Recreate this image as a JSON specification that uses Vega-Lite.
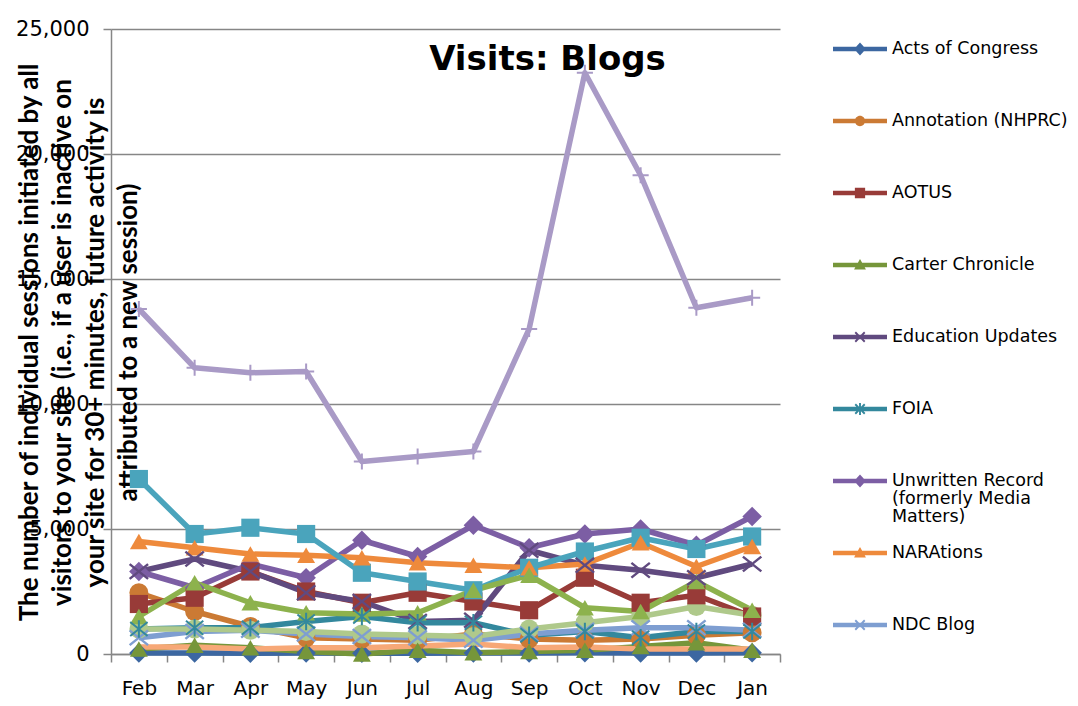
{
"$schema":"https://vega.github.io/schema/vega-lite/v6.json",
"width":669,"height":625,
"autosize":{"type":"none"},
"padding":{"left":111,"top":29,"right":298,"bottom":52},
"background":"white",
"config":{"view":{"stroke":null}},
"title":{"text":"Visits: Blogs","font":"DejaVu Sans","fontSize":34,"fontWeight":"bold","color":"#000000","anchor":"middle","dx":102,"dy":42,"offset":-44,"baseline":"alphabetic"},
"datasets":{"blogs":[
{"series":"Acts of Congress","month":"Feb","value":40},{"series":"Acts of Congress","month":"Mar","value":40},{"series":"Acts of Congress","month":"Apr","value":30},{"series":"Acts of Congress","month":"May","value":40},{"series":"Acts of Congress","month":"Jun","value":30},{"series":"Acts of Congress","month":"Jul","value":30},{"series":"Acts of Congress","month":"Aug","value":40},{"series":"Acts of Congress","month":"Sep","value":40},{"series":"Acts of Congress","month":"Oct","value":50},{"series":"Acts of Congress","month":"Nov","value":40},{"series":"Acts of Congress","month":"Dec","value":40},{"series":"Acts of Congress","month":"Jan","value":50},
{"series":"Annotation (NHPRC)","month":"Feb","value":2450},{"series":"Annotation (NHPRC)","month":"Mar","value":1700},{"series":"Annotation (NHPRC)","month":"Apr","value":1100},{"series":"Annotation (NHPRC)","month":"May","value":650},{"series":"Annotation (NHPRC)","month":"Jun","value":600},{"series":"Annotation (NHPRC)","month":"Jul","value":550},{"series":"Annotation (NHPRC)","month":"Aug","value":800},{"series":"Annotation (NHPRC)","month":"Sep","value":600},{"series":"Annotation (NHPRC)","month":"Oct","value":550},{"series":"Annotation (NHPRC)","month":"Nov","value":600},{"series":"Annotation (NHPRC)","month":"Dec","value":750},{"series":"Annotation (NHPRC)","month":"Jan","value":850},
{"series":"AOTUS","month":"Feb","value":2000},{"series":"AOTUS","month":"Mar","value":2250},{"series":"AOTUS","month":"Apr","value":3300},{"series":"AOTUS","month":"May","value":2500},{"series":"AOTUS","month":"Jun","value":2050},{"series":"AOTUS","month":"Jul","value":2450},{"series":"AOTUS","month":"Aug","value":2100},{"series":"AOTUS","month":"Sep","value":1750},{"series":"AOTUS","month":"Oct","value":3050},{"series":"AOTUS","month":"Nov","value":2050},{"series":"AOTUS","month":"Dec","value":2350},{"series":"AOTUS","month":"Jan","value":1500},
{"series":"Carter Chronicle","month":"Feb","value":200},{"series":"Carter Chronicle","month":"Mar","value":350},{"series":"Carter Chronicle","month":"Apr","value":250},{"series":"Carter Chronicle","month":"May","value":100},{"series":"Carter Chronicle","month":"Jun","value":0},{"series":"Carter Chronicle","month":"Jul","value":150},{"series":"Carter Chronicle","month":"Aug","value":50},{"series":"Carter Chronicle","month":"Sep","value":100},{"series":"Carter Chronicle","month":"Oct","value":150},{"series":"Carter Chronicle","month":"Nov","value":300},{"series":"Carter Chronicle","month":"Dec","value":450},{"series":"Carter Chronicle","month":"Jan","value":150},
{"series":"Education Updates","month":"Feb","value":3300},{"series":"Education Updates","month":"Mar","value":3800},{"series":"Education Updates","month":"Apr","value":3300},{"series":"Education Updates","month":"May","value":2450},{"series":"Education Updates","month":"Jun","value":2100},{"series":"Education Updates","month":"Jul","value":1300},{"series":"Education Updates","month":"Aug","value":1350},{"series":"Education Updates","month":"Sep","value":4150},{"series":"Education Updates","month":"Oct","value":3550},{"series":"Education Updates","month":"Nov","value":3350},{"series":"Education Updates","month":"Dec","value":3050},{"series":"Education Updates","month":"Jan","value":3600},
{"series":"FOIA","month":"Feb","value":1000},{"series":"FOIA","month":"Mar","value":1050},{"series":"FOIA","month":"Apr","value":1050},{"series":"FOIA","month":"May","value":1300},{"series":"FOIA","month":"Jun","value":1500},{"series":"FOIA","month":"Jul","value":1250},{"series":"FOIA","month":"Aug","value":1250},{"series":"FOIA","month":"Sep","value":750},{"series":"FOIA","month":"Oct","value":900},{"series":"FOIA","month":"Nov","value":650},{"series":"FOIA","month":"Dec","value":900},{"series":"FOIA","month":"Jan","value":900},
{"series":"Unwritten Record (formerly Media Matters)","month":"Feb","value":3300},{"series":"Unwritten Record (formerly Media Matters)","month":"Mar","value":2650},{"series":"Unwritten Record (formerly Media Matters)","month":"Apr","value":3600},{"series":"Unwritten Record (formerly Media Matters)","month":"May","value":3050},{"series":"Unwritten Record (formerly Media Matters)","month":"Jun","value":4550},{"series":"Unwritten Record (formerly Media Matters)","month":"Jul","value":3900},{"series":"Unwritten Record (formerly Media Matters)","month":"Aug","value":5150},{"series":"Unwritten Record (formerly Media Matters)","month":"Sep","value":4250},{"series":"Unwritten Record (formerly Media Matters)","month":"Oct","value":4800},{"series":"Unwritten Record (formerly Media Matters)","month":"Nov","value":5000},{"series":"Unwritten Record (formerly Media Matters)","month":"Dec","value":4350},{"series":"Unwritten Record (formerly Media Matters)","month":"Jan","value":5500},
{"series":"NARAtions","month":"Feb","value":4500},{"series":"NARAtions","month":"Mar","value":4250},{"series":"NARAtions","month":"Apr","value":4000},{"series":"NARAtions","month":"May","value":3950},{"series":"NARAtions","month":"Jun","value":3850},{"series":"NARAtions","month":"Jul","value":3650},{"series":"NARAtions","month":"Aug","value":3550},{"series":"NARAtions","month":"Sep","value":3450},{"series":"NARAtions","month":"Oct","value":3600},{"series":"NARAtions","month":"Nov","value":4450},{"series":"NARAtions","month":"Dec","value":3500},{"series":"NARAtions","month":"Jan","value":4300},
{"series":"NDC Blog","month":"Feb","value":650},{"series":"NDC Blog","month":"Mar","value":900},{"series":"NDC Blog","month":"Apr","value":950},{"series":"NDC Blog","month":"May","value":800},{"series":"NDC Blog","month":"Jun","value":700},{"series":"NDC Blog","month":"Jul","value":650},{"series":"NDC Blog","month":"Aug","value":550},{"series":"NDC Blog","month":"Sep","value":800},{"series":"NDC Blog","month":"Oct","value":950},{"series":"NDC Blog","month":"Nov","value":1050},{"series":"NDC Blog","month":"Dec","value":1050},{"series":"NDC Blog","month":"Jan","value":950},
{"series":"Pieces of History","month":"Feb","value":13800},{"series":"Pieces of History","month":"Mar","value":11450},{"series":"Pieces of History","month":"Apr","value":11250},{"series":"Pieces of History","month":"May","value":11300},{"series":"Pieces of History","month":"Jun","value":7700},{"series":"Pieces of History","month":"Jul","value":7900},{"series":"Pieces of History","month":"Aug","value":8100},{"series":"Pieces of History","month":"Sep","value":13000},{"series":"Pieces of History","month":"Oct","value":23250},{"series":"Pieces of History","month":"Nov","value":19150},{"series":"Pieces of History","month":"Dec","value":13850},{"series":"Pieces of History","month":"Jan","value":14250},
{"series":"Records Express","month":"Feb","value":7000},{"series":"Records Express","month":"Mar","value":4800},{"series":"Records Express","month":"Apr","value":5050},{"series":"Records Express","month":"May","value":4800},{"series":"Records Express","month":"Jun","value":3250},{"series":"Records Express","month":"Jul","value":2900},{"series":"Records Express","month":"Aug","value":2550},{"series":"Records Express","month":"Sep","value":3450},{"series":"Records Express","month":"Oct","value":4100},{"series":"Records Express","month":"Nov","value":4650},{"series":"Records Express","month":"Dec","value":4200},{"series":"Records Express","month":"Jan","value":4700},
{"series":"Rediscovering Black History","month":"Feb","value":1500},{"series":"Rediscovering Black History","month":"Mar","value":2850},{"series":"Rediscovering Black History","month":"Apr","value":2050},{"series":"Rediscovering Black History","month":"May","value":1650},{"series":"Rediscovering Black History","month":"Jun","value":1600},{"series":"Rediscovering Black History","month":"Jul","value":1650},{"series":"Rediscovering Black History","month":"Aug","value":2550},{"series":"Rediscovering Black History","month":"Sep","value":3150},{"series":"Rediscovering Black History","month":"Oct","value":1850},{"series":"Rediscovering Black History","month":"Nov","value":1700},{"series":"Rediscovering Black History","month":"Dec","value":2900},{"series":"Rediscovering Black History","month":"Jan","value":1750},
{"series":"The Text Message","month":"Feb","value":1000},{"series":"The Text Message","month":"Mar","value":1000},{"series":"The Text Message","month":"Apr","value":950},{"series":"The Text Message","month":"May","value":900},{"series":"The Text Message","month":"Jun","value":800},{"series":"The Text Message","month":"Jul","value":750},{"series":"The Text Message","month":"Aug","value":700},{"series":"The Text Message","month":"Sep","value":1000},{"series":"The Text Message","month":"Oct","value":1250},{"series":"The Text Message","month":"Nov","value":1500},{"series":"The Text Message","month":"Dec","value":1900},{"series":"The Text Message","month":"Jan","value":1550},
{"series":"Our Presidents","month":"Feb","value":280},{"series":"Our Presidents","month":"Mar","value":280},{"series":"Our Presidents","month":"Apr","value":200},{"series":"Our Presidents","month":"May","value":250},{"series":"Our Presidents","month":"Jun","value":250},{"series":"Our Presidents","month":"Jul","value":320},{"series":"Our Presidents","month":"Aug","value":400},{"series":"Our Presidents","month":"Sep","value":250},{"series":"Our Presidents","month":"Oct","value":280},{"series":"Our Presidents","month":"Nov","value":200},{"series":"Our Presidents","month":"Dec","value":200},{"series":"Our Presidents","month":"Jan","value":200}
]},
"data":{"name":"blogs"},
"encoding":{
 "x":{"field":"month","type":"ordinal","sort":["Feb","Mar","Apr","May","Jun","Jul","Aug","Sep","Oct","Nov","Dec","Jan"],"bandPosition":0.5,
  "scale":{"type":"band","paddingInner":0,"paddingOuter":0},
  "axis":{"title":null,"labelAngle":0,"labelFont":"DejaVu Sans","labelFontSize":20,"labelColor":"#000000","labelPadding":16,"domainColor":"#868686","domainWidth":1.5,"tickColor":"#868686","tickWidth":1.5,"tickSize":8,"tickBand":"extent","grid":false}},
 "y":{"field":"value","type":"quantitative","scale":{"domain":[0,25000],"nice":false,"zero":true},
  "axis":{"values":[0,5000,10000,15000,20000,25000],"format":",.0f","grid":true,"gridColor":"#868686","gridWidth":1.5,"domainColor":"#868686","domainWidth":1.5,"tickColor":"#868686","tickWidth":1.5,"tickSize":8,"labelFont":"DejaVu Sans","labelFontSize":21,"labelColor":"#000000","labelPadding":14,
   "title":["The number of individual sessions initiated by all","visitors to your site (i.e., if a user is inactive on","your site for 30+ minutes, future activity is","attributed to a new session)"],
   "titleFont":"Lato","titleFontSize":26,"titleFontWeight":"bold","titleColor":"#000000","titleLineHeight":33,"titleAngle":-90,"titleAlign":"center","titleBaseline":"top","titleX":-95,"titleY":313}}
},
"layer":[
 {"mark":{"type":"line","strokeWidth":5.5,"strokeJoin":"round"},
  "encoding":{"stroke":{"field":"series","type":"nominal","legend":null,
   "scale":{"domain":["AOTUS","Acts of Congress","Annotation (NHPRC)","Carter Chronicle","Education Updates","FOIA","NARAtions","NDC Blog","Our Presidents","Pieces of History","Records Express","Rediscovering Black History","The Text Message","Unwritten Record (formerly Media Matters)"],
    "range":["#983B38","#3C67A1","#CB7A34","#76963A","#604A7F","#33889D","#EE8A3C","#7E9ED1","#F7A877","#A99AC6","#4AA4BC","#8DB24D","#AFC98B","#7C5EA4"]}}}},
 {"transform":[{"filter":{"field":"series","oneOf":["Acts of Congress","Unwritten Record (formerly Media Matters)"]}}],
  "mark":{"type":"point","shape":"diamond","filled":true,"opacity":1,"size":380,"strokeWidth":0},
  "encoding":{"fill":{"field":"series","type":"nominal","legend":null,
   "scale":{"domain":["AOTUS","Acts of Congress","Annotation (NHPRC)","Carter Chronicle","Education Updates","FOIA","NARAtions","NDC Blog","Our Presidents","Pieces of History","Records Express","Rediscovering Black History","The Text Message","Unwritten Record (formerly Media Matters)"],
    "range":["#983B38","#3C67A1","#CB7A34","#76963A","#604A7F","#33889D","#EE8A3C","#7E9ED1","#F7A877","#A99AC6","#4AA4BC","#8DB24D","#AFC98B","#7C5EA4"]}}}},
 {"transform":[{"filter":{"field":"series","oneOf":["Annotation (NHPRC)","The Text Message"]}}],
  "mark":{"type":"point","shape":"circle","filled":true,"opacity":1,"size":360,"strokeWidth":0},
  "encoding":{"fill":{"field":"series","type":"nominal","legend":null}}},
 {"transform":[{"filter":{"field":"series","oneOf":["AOTUS","Records Express"]}}],
  "mark":{"type":"point","shape":"square","filled":true,"opacity":1,"size":330,"strokeWidth":0},
  "encoding":{"fill":{"field":"series","type":"nominal","legend":null}}},
 {"transform":[{"filter":{"field":"series","oneOf":["Carter Chronicle","NARAtions","Rediscovering Black History"]}}],
  "mark":{"type":"point","shape":"triangle-up","filled":true,"opacity":1,"size":320,"strokeWidth":0},
  "encoding":{"fill":{"field":"series","type":"nominal","legend":null}}},
 {"transform":[{"filter":{"field":"series","oneOf":["Education Updates","NDC Blog"]}}],
  "mark":{"type":"point","shape":"M-1,-0.8L1,0.8M-1,0.8L1,-0.8","filled":false,"opacity":1,"size":340,"strokeWidth":2.5},
  "encoding":{"stroke":{"field":"series","type":"nominal","legend":null}}},
 {"transform":[{"filter":{"field":"series","equal":"FOIA"}}],
  "mark":{"type":"point","shape":"M-1,-0.8L1,0.8M-1,0.8L1,-0.8M0,-1V1","filled":false,"opacity":1,"size":300,"strokeWidth":2},
  "encoding":{"stroke":{"field":"series","type":"nominal","legend":null}}},
 {"transform":[{"filter":{"field":"series","equal":"Pieces of History"}}],
  "mark":{"type":"point","shape":"M-1,0H1M0,-1V1","filled":false,"opacity":1,"size":260,"strokeWidth":2},
  "encoding":{"stroke":{"field":"series","type":"nominal","legend":null}}},
 {"mark":{"type":"point","filled":true,"opacity":0},
  "encoding":{
   "color":{"field":"series","type":"nominal",
    "scale":{"domain":["Acts of Congress","Annotation (NHPRC)","AOTUS","Carter Chronicle","Education Updates","FOIA","Unwritten Record (formerly Media Matters)","NARAtions","NDC Blog","Pieces of History","Records Express","Rediscovering Black History","The Text Message","Our Presidents"],
     "range":["#3C67A1","#CB7A34","#983B38","#76963A","#604A7F","#33889D","#7C5EA4","#EE8A3C","#7E9ED1","#A99AC6","#4AA4BC","#8DB24D","#AFC98B","#F7A877"]},
    "legend":{"orient":"none","legendX":722,"legendY":-7,"title":null,"padding":0,"symbolSize":2916,"symbolStrokeWidth":0,"symbolOpacity":1,"rowPadding":0,"labelFont":"DejaVu Sans","labelFontSize":17.5,"labelColor":"#000000","labelLimit":400,"labelOffset":5,"labelBaseline":"middle",
     "values":["Acts of Congress","Annotation (NHPRC)","AOTUS","Carter Chronicle","Education Updates","FOIA","Unwritten Record (formerly Media Matters)","NARAtions","NDC Blog"],
     "labelExpr":"datum.label == 'Unwritten Record (formerly Media Matters)' ? ['Unwritten Record','(formerly Media','Matters)'] : [datum.label,'','']",
     "encode":{"symbols":{"update":{"opacity":{"value":1}}},"labels":{"update":{"lineHeight":{"value":18}}}}}},
   "shape":{"field":"series","type":"nominal",
    "scale":{"domain":["Acts of Congress","Annotation (NHPRC)","AOTUS","Carter Chronicle","Education Updates","FOIA","Unwritten Record (formerly Media Matters)","NARAtions","NDC Blog","Pieces of History","Records Express","Rediscovering Black History","The Text Message","Our Presidents"],
     "range":[
      "M-1,-0.08H1V0.08H-1Z M0,-0.24L0.22,0L0,0.24L-0.22,0Z",
      "M-1,-0.08H1V0.08H-1Z M-0.19,0A0.19,0.19 0 1,1 0.19,0A0.19,0.19 0 1,1 -0.19,0Z",
      "M-1,-0.08H1V0.08H-1Z M-0.19,-0.19H0.19V0.19H-0.19Z",
      "M-1,-0.08H1V0.08H-1Z M0,-0.22L0.22,0.17H-0.22Z",
      "M-1,-0.08H1V0.08H-1Z M-0.2,-0.15L-0.15,-0.2L0,-0.05L0.15,-0.2L0.2,-0.15L0.05,0L0.2,0.15L0.15,0.2L0,0.05L-0.15,0.2L-0.2,0.15L-0.05,0Z",
      "M-1,-0.08H1V0.08H-1Z M-0.2,-0.15L-0.15,-0.2L0,-0.05L0.15,-0.2L0.2,-0.15L0.05,0L0.2,0.15L0.15,0.2L0,0.05L-0.15,0.2L-0.2,0.15L-0.05,0Z M-0.035,-0.22H0.035V0.22H-0.035Z",
      "M-1,-0.08H1V0.08H-1Z M0,-0.24L0.22,0L0,0.24L-0.22,0Z",
      "M-1,-0.08H1V0.08H-1Z M0,-0.22L0.22,0.17H-0.22Z",
      "M-1,-0.08H1V0.08H-1Z M-0.2,-0.15L-0.15,-0.2L0,-0.05L0.15,-0.2L0.2,-0.15L0.05,0L0.2,0.15L0.15,0.2L0,0.05L-0.15,0.2L-0.2,0.15L-0.05,0Z",
      "M-1,-0.08H1V0.08H-1Z M-0.035,-0.2H0.035V0.2H-0.035Z",
      "M-1,-0.08H1V0.08H-1Z M-0.19,-0.19H0.19V0.19H-0.19Z",
      "M-1,-0.08H1V0.08H-1Z M0,-0.22L0.22,0.17H-0.22Z",
      "M-1,-0.08H1V0.08H-1Z M-0.19,0A0.19,0.19 0 1,1 0.19,0A0.19,0.19 0 1,1 -0.19,0Z",
      "M-1,-0.08H1V0.08H-1Z"]},
    "legend":{"orient":"none","legendX":722,"legendY":-7,"title":null,"padding":0,"symbolSize":2916,"symbolStrokeWidth":0,"symbolOpacity":1,"rowPadding":0,"labelFont":"DejaVu Sans","labelFontSize":17.5,"labelColor":"#000000","labelLimit":400,"labelOffset":5,"labelBaseline":"middle",
     "values":["Acts of Congress","Annotation (NHPRC)","AOTUS","Carter Chronicle","Education Updates","FOIA","Unwritten Record (formerly Media Matters)","NARAtions","NDC Blog"],
     "labelExpr":"datum.label == 'Unwritten Record (formerly Media Matters)' ? ['Unwritten Record','(formerly Media','Matters)'] : [datum.label,'','']",
     "encode":{"symbols":{"update":{"opacity":{"value":1}}},"labels":{"update":{"lineHeight":{"value":18}}}}}}
  }}
]
}
